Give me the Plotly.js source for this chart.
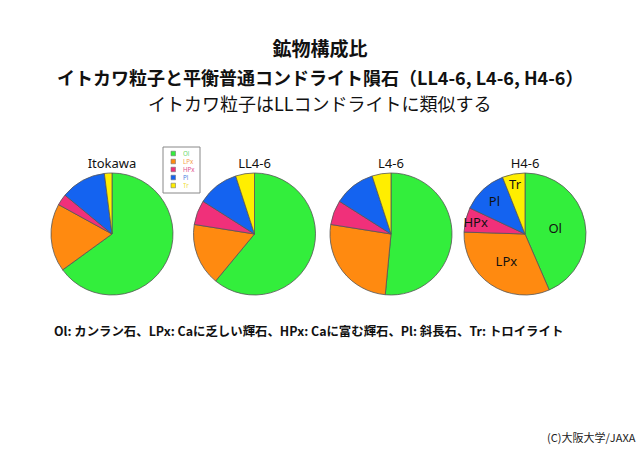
<!DOCTYPE html>
<html><head><meta charset="utf-8">
<script src="https://cdn.plot.ly/plotly-3.0.1.min.js"></script>
<style>html,body{margin:0;padding:0;background:#fff}#chart{width:640px;height:452px}</style>
</head><body><div id="chart"></div>
<script>
// Categories (minerals) and their colours
const minerals = ["Ol", "LPx", "HPx", "Pl", "Tr"];
const mineralColors = ["#33EE3C", "#FF8A10", "#F0307A", "#1463F0", "#FFEE00"];
const legendTextColors = ["#66d96a", "#f5a04a", "#e0508f", "#4a7fe0", "#f0e040"];
// Sample names
const samples = ["Itokawa", "LL4-6", "L4-6", "H4-6"];
// Modal composition (%) per sample, order = minerals
const itokawa = [65, 18, 3, 12, 2];
const ll46 = [61, 16.5, 6.5, 11, 5];
const l46 = [51.5, 26, 6.5, 11, 5];
const h46 = [43.5, 32, 6.5, 12, 6];
const seriesValues = [itokawa, ll46, l46, h46];
// Text lines
const titleLine1 = "鉱物構成比";
const titleLine2 = "イトカワ粒子と平衡普通コンドライト隕石（LL4-6, L4-6, H4-6）";
const titleLine3 = "イトカワ粒子はLLコンドライトに類似する";
const footnote = "Ol: カンラン石、LPx: Caに乏しい輝石、HPx: Caに富む輝石、Pl: 斜長石、Tr: トロイライト";
const credit = "(C)大阪大学/JAXA";

const W = 640, H = 452;
const jp = "'Noto Sans CJK JP', 'Noto Sans', sans-serif";
const centersX = [112, 254.5, 391, 525];
const rad = 61, pieTop = 155, pieBottom = 295;

const data = samples.map((s, i) => ({
  type: "pie",
  name: s,
  labels: minerals,
  values: seriesValues[i],
  sort: false,
  direction: "clockwise",
  rotation: 0,
  marker: {colors: mineralColors, line: {color: "#555", width: 0.8}},
  textinfo: i === 3 ? "label" : "none",
  textposition: "inside",
  insidetextorientation: "horizontal",
  insidetextfont: {family: "'Noto Sans', sans-serif", size: 13, color: "#111"},
  hoverinfo: "label+percent",
  showlegend: false,
  title: {text: s, position: "top center", font: {family: "'Noto Sans', sans-serif", size: 13, color: "#111"}},
  domain: {
    x: [(centersX[i] - rad) / W, (centersX[i] + rad) / W],
    y: [1 - pieBottom / H, 1 - pieTop / H]
  }
}));

// hand-built compact legend from arrays
const lgX = 163, lgY = 147, lgW = 37, lgH = 46, rowH = 8;
const shapes = [{type: "rect", xref: "paper", yref: "paper",
  x0: lgX / W, x1: (lgX + lgW) / W, y0: 1 - (lgY + lgH) / H, y1: 1 - lgY / H,
  line: {color: "#888", width: 1}, fillcolor: "#fff"}];
const annotations = [];
minerals.forEach((m, k) => {
  const cy = lgY + 6.5 + k * rowH;
  shapes.push({type: "rect", xref: "paper", yref: "paper",
    x0: (lgX + 8) / W, x1: (lgX + 12.5) / W, y0: 1 - (cy + 2.3) / H, y1: 1 - (cy - 2.3) / H,
    line: {color: "#777", width: 0.6}, fillcolor: mineralColors[k]});
  annotations.push({xref: "paper", yref: "paper", x: (lgX + 19) / W, y: 1 - cy / H,
    xanchor: "left", yanchor: "middle", showarrow: false, text: m, height: 7, borderpad: 0,
    font: {family: "'Noto Sans', sans-serif", size: 6.2, color: legendTextColors[k]}});
});
annotations.push(
  {xref: "paper", yref: "paper", x: 0.5, y: 1 - 77 / H, xanchor: "center", yanchor: "middle", showarrow: false,
   text: "<b>" + titleLine2 + "</b>", font: {family: jp, size: 18, color: "#111"}},
  {xref: "paper", yref: "paper", x: 0.5, y: 1 - 103 / H, xanchor: "center", yanchor: "middle", showarrow: false,
   text: titleLine3, font: {family: jp, size: 18, color: "#111"}},
  {xref: "paper", yref: "paper", x: 52 / W, y: 1 - 331 / H, xanchor: "left", yanchor: "middle", showarrow: false,
   text: "<b>" + footnote + "</b>", font: {family: jp, size: 12.4, color: "#111"}},
  {xref: "paper", yref: "paper", x: 638 / W, y: 1 - 437 / H, xanchor: "right", yanchor: "middle", showarrow: false,
   text: credit, font: {family: jp, size: 11, color: "#222"}}
);

const layout = {
  width: W, height: H,
  margin: {l: 0, r: 0, t: 0, b: 0},
  paper_bgcolor: "#fff", plot_bgcolor: "#fff",
  title: {text: "<b>" + titleLine1 + "</b>", x: 0.5, xanchor: "center", y: 1 - 49 / H, yanchor: "middle",
          font: {family: jp, size: 19, color: "#111"}},
  showlegend: false,
  uniformtext: {minsize: 11.5, mode: "show"},
  shapes: shapes,
  annotations: annotations
};
Plotly.newPlot("chart", data, layout, {displayModeBar: false, staticPlot: true});
</script></body></html>
